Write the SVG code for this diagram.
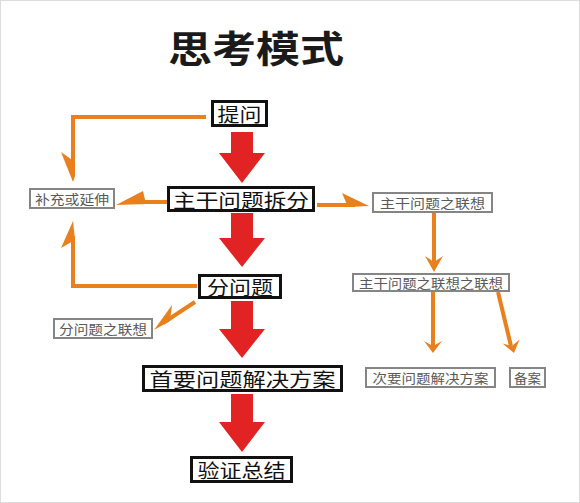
<svg xmlns="http://www.w3.org/2000/svg" width="580" height="503" viewBox="0 0 580 503">
<style>
.bg{fill:#fff;stroke:#dcdcdc;stroke-width:1}
.bk{fill:#fff;stroke:#111;stroke-width:3}
.gy{fill:#fff;stroke:#858585;stroke-width:2}
.tb{font-family:"Noto Sans CJK SC","Noto Sans CJK JP",sans-serif;font-size:19px;fill:#111;text-anchor:middle;dominant-baseline:central}
.tg{font-family:"Noto Sans CJK SC","Noto Sans CJK JP",sans-serif;font-size:13px;fill:#5a5a5a;text-anchor:middle;dominant-baseline:central}
.title{font-family:"Noto Sans CJK SC","Noto Sans CJK JP",sans-serif;font-size:37px;font-weight:bold;fill:#1a1a1a;text-anchor:middle}
.ol{fill:none;stroke:#E8801E;stroke-width:4;stroke-linejoin:miter}
.oh{fill:#E8801E}
.red{fill:#E12323}
</style>
<rect class="bg" x="0.5" y="0.5" width="579" height="502"/>
<g id="title"><text class="title" x="256" y="63" textLength="176" lengthAdjust="spacingAndGlyphs">思考模式</text></g>
<g id="connectors">
<polygon class="red" points="231,132 253,132 253,153 265,153 242,183 219,153 231,153"/>
<polygon class="red" points="231,213 253,213 253,238 265,238 242,267 219,238 231,238"/>
<polygon class="red" points="231,301 253,301 253,329 265,329 242,358 219,329 231,329"/>
<polygon class="red" points="231,394 253,394 253,422 265,422 242,452 219,422 231,422"/>
<polyline class="ol" points="206,117 73,117 73,170"/>
<polygon class="oh" points="61,152 75,162 75,176 73,182"/>
<line class="ol" x1="167" y1="202" x2="130" y2="202"/>
<polygon class="oh" points="116,205 143,191 146,204"/>
<polyline class="ol" points="197,286 73,286 73,236"/>
<polygon class="oh" points="73,221 61,248 75,240"/>
<line class="ol" x1="195" y1="302" x2="163" y2="323"/>
<polygon class="oh" points="154,330 172,305 170,321"/>
<line class="ol" x1="317" y1="205" x2="355" y2="205"/>
<polygon class="oh" points="369,206 342,193 348,207"/>
<line class="ol" x1="434" y1="213" x2="434" y2="262"/>
<polygon class="oh" points="425,256 434,262 443,256 434,272"/>
<line class="ol" x1="433" y1="292" x2="433" y2="346"/>
<polygon class="oh" points="424,341 433,346 442,341 433,353"/>
<line class="ol" x1="498" y1="292" x2="511" y2="346"/>
<polygon class="oh" points="502.5,343.5 512,346 519.5,339.5 514,353"/>
</g>
<g id="n-tiwen"><rect class="bk" x="212.5" y="101.5" width="54" height="24"/><text class="tb" x="239.5" y="113.5" textLength="44" lengthAdjust="spacingAndGlyphs">提问</text></g>
<g id="n-zhugan"><rect class="bk" x="168.5" y="187.5" width="145" height="23"/><text class="tb" x="241" y="199" textLength="136" lengthAdjust="spacingAndGlyphs">主干问题拆分</text></g>
<g id="n-fenwenti"><rect class="bk" x="199.5" y="275.5" width="81" height="22"/><text class="tb" x="240" y="286.5" textLength="66" lengthAdjust="spacingAndGlyphs">分问题</text></g>
<g id="n-shouyao"><rect class="bk" x="143.5" y="366.5" width="198" height="24"/><text class="tb" x="242.5" y="378.5" textLength="186" lengthAdjust="spacingAndGlyphs">首要问题解决方案</text></g>
<g id="n-yanzheng"><rect class="bk" x="191.5" y="457.5" width="100" height="24"/><text class="tb" x="241.5" y="469.5" textLength="88" lengthAdjust="spacingAndGlyphs">验证总结</text></g>
<g id="n-buchong"><rect class="gy" x="30" y="189" width="84" height="19"/><text class="tg" x="72" y="198.5" textLength="74" lengthAdjust="spacingAndGlyphs">补充或延伸</text></g>
<g id="n-fenlianxiang"><rect class="gy" x="54" y="319" width="98" height="19"/><text class="tg" x="103" y="328.5" textLength="88" lengthAdjust="spacingAndGlyphs">分问题之联想</text></g>
<g id="n-zhulianxiang"><rect class="gy" x="373" y="193" width="119" height="19"/><text class="tg" x="432.5" y="202.5" textLength="105" lengthAdjust="spacingAndGlyphs">主干问题之联想</text></g>
<g id="n-zhulianxiang2"><rect class="gy" x="353" y="274" width="156" height="17"/><text class="tg" x="431" y="282.5" textLength="144" lengthAdjust="spacingAndGlyphs">主干问题之联想之联想</text></g>
<g id="n-ciyao"><rect class="gy" x="366" y="368" width="129" height="19"/><text class="tg" x="430.5" y="377.5" textLength="116" lengthAdjust="spacingAndGlyphs">次要问题解决方案</text></g>
<g id="n-beian"><rect class="gy" x="510" y="368" width="35" height="19"/><text class="tg" x="527.5" y="377.5" textLength="27" lengthAdjust="spacingAndGlyphs">备案</text></g>
</svg>
